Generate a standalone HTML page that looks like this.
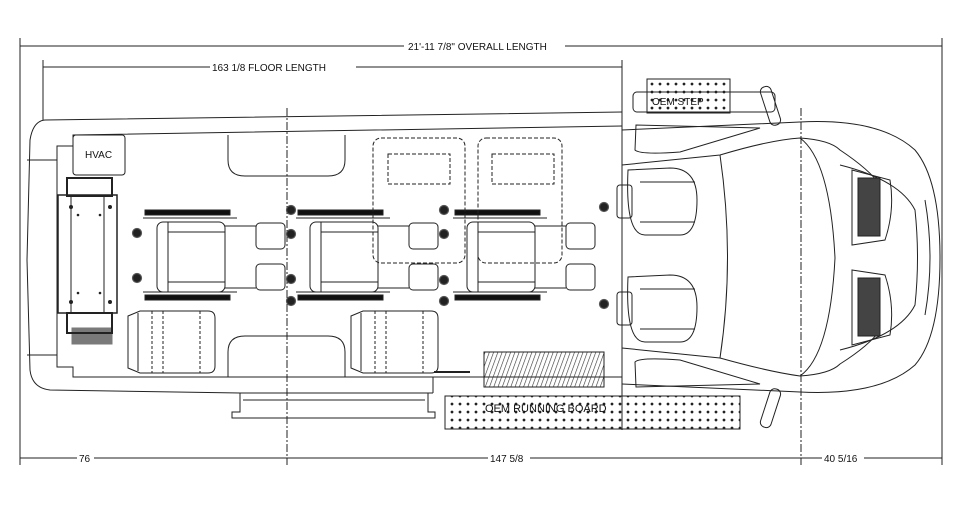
<!DOCTYPE html>
<html><head><meta charset="utf-8"><style>
html,body{margin:0;padding:0;background:#fff;}
svg{display:block;}
text{font-family:"Liberation Sans",sans-serif;font-size:10px;fill:#111;stroke:none;}
</style></head><body>
<svg width="964" height="509" viewBox="0 0 964 509" xmlns="http://www.w3.org/2000/svg" fill="none" stroke="#222" stroke-width="1">
<defs>
<pattern id="dots" width="8" height="8" patternUnits="userSpaceOnUse"><circle cx="4" cy="4" r="1.4" fill="#222" stroke="none"/></pattern>
<pattern id="hatch" width="4" height="4" patternUnits="userSpaceOnUse" patternTransform="rotate(20)"><line x1="0" y1="0" x2="0" y2="4" stroke="#333" stroke-width="1.2"/></pattern>
</defs>
<line x1="20" y1="38" x2="20" y2="465"/>
<line x1="942" y1="38" x2="942" y2="465"/>
<line x1="20" y1="46" x2="404" y2="46"/><line x1="565" y1="46" x2="942" y2="46"/>
<text x="408" y="50">21'-11 7/8" OVERALL LENGTH</text>
<line x1="43" y1="60" x2="43" y2="120"/>
<line x1="622" y1="60" x2="622" y2="430"/>
<line x1="43" y1="67" x2="210" y2="67"/><line x1="356" y1="67" x2="622" y2="67"/>
<text x="212" y="71">163 1/8 FLOOR LENGTH</text>
<line x1="20" y1="458" x2="77" y2="458"/><line x1="94" y1="458" x2="287" y2="458"/>
<text x="79" y="462">76</text>
<line x1="287" y1="458" x2="488" y2="458"/><line x1="530" y1="458" x2="800" y2="458"/>
<text x="490" y="462">147 5/8</text>
<line x1="800" y1="458" x2="822" y2="458"/><line x1="864" y1="458" x2="942" y2="458"/>
<text x="824" y="462">40 5/16</text>
<line x1="287" y1="108" x2="287" y2="465" stroke-dasharray="8,2,2,2"/>
<line x1="801" y1="108" x2="801" y2="465" stroke-dasharray="8,2,2,2"/>
<path d="M622 112 L45 120 Q33 121 30 140 L27 260 L30 370 Q32 388 50 390 L240 393 L433 393"/>
<path d="M622 126 L73 135 L73 146 L57 146 L57 367 L73 367 L73 377 L433 377 L622 377"/>
<line x1="27" y1="160" x2="57" y2="160"/><line x1="27" y1="355" x2="57" y2="355"/>
<line x1="433" y1="377" x2="433" y2="393"/>
<path d="M240 393 L240 412 L232 412 L232 418 L435 418 L435 412 L428 412 L428 393"/>
<line x1="243" y1="400" x2="425" y2="400"/>
<rect x="73" y="135" width="52" height="40" rx="3"/>
<text x="85" y="158">HVAC</text>
<rect x="67" y="178" width="45" height="18" stroke-width="2"/>
<rect x="58" y="195" width="59" height="118" stroke-width="1.5"/>
<line x1="71" y1="195" x2="71" y2="313"/><line x1="104" y1="195" x2="104" y2="313"/>
<g fill="#222" stroke="none"><circle cx="71" cy="207" r="2"/><circle cx="110" cy="207" r="2"/><circle cx="71" cy="302" r="2"/><circle cx="110" cy="302" r="2"/><circle cx="78" cy="215" r="1.3"/><circle cx="100" cy="215" r="1.3"/><circle cx="78" cy="293" r="1.3"/><circle cx="100" cy="293" r="1.3"/></g>
<rect x="67" y="313" width="45" height="20" stroke-width="2"/>
<rect x="72" y="328" width="40" height="16" fill="#222" opacity="0.6"/>
<path d="M228 135 L228 160 Q228 176 245 176 L328 176 Q345 176 345 160 L345 135"/>
<path d="M228 377 L228 352 Q228 336 245 336 L328 336 Q345 336 345 352 L345 377"/>
<g id="seat">
<rect x="145" y="210" width="85" height="5" fill="#111"/>
<rect x="145" y="295" width="85" height="5" fill="#111"/>
<line x1="143" y1="218" x2="237" y2="218"/><line x1="143" y1="292" x2="237" y2="292"/>
<rect x="157" y="222" width="68" height="70" rx="6"/>
<line x1="168" y1="222" x2="168" y2="292"/><line x1="168" y1="232" x2="225" y2="232"/><line x1="168" y1="282" x2="225" y2="282"/>
<rect x="256" y="223" width="29" height="26" rx="4"/>
<rect x="256" y="264" width="29" height="26" rx="4"/>
<line x1="225" y1="226" x2="256" y2="226"/><line x1="225" y1="288" x2="256" y2="288"/>
</g>
<use href="#seat" x="153"/>
<use href="#seat" x="310"/>
<g fill="#222" stroke="#555" stroke-width="1.2">
<circle cx="137" cy="233" r="4.5"/><circle cx="137" cy="278" r="4.5"/>
<circle cx="291" cy="210" r="4.5"/><circle cx="291" cy="234" r="4.5"/><circle cx="291" cy="279" r="4.5"/><circle cx="291" cy="301" r="4.5"/>
<circle cx="444" cy="210" r="4.5"/><circle cx="444" cy="234" r="4.5"/><circle cx="444" cy="280" r="4.5"/><circle cx="444" cy="301" r="4.5"/>
<circle cx="604" cy="207" r="4.5"/><circle cx="604" cy="304" r="4.5"/>
</g>
<g id="bench">
<path d="M140 311 L208 311 Q215 311 215 318 L215 366 Q215 373 208 373 L140 373 L128 368 L128 316 Z"/>
<line x1="138" y1="313" x2="138" y2="371"/><line x1="152" y1="311" x2="152" y2="373" stroke-dasharray="3,2"/><line x1="163" y1="311" x2="163" y2="373" stroke-dasharray="3,2"/><line x1="200" y1="311" x2="200" y2="373" stroke-dasharray="3,2"/>
</g>
<use href="#bench" x="223"/>
<g stroke-dasharray="4,2">
<rect x="373" y="138" width="92" height="125" rx="8"/>
<rect x="388" y="154" width="62" height="30"/>
<rect x="478" y="138" width="84" height="125" rx="8"/>
<rect x="492" y="154" width="62" height="30"/>
</g>
<rect x="484" y="352" width="120" height="35" fill="url(#hatch)"/>
<line x1="434" y1="372" x2="470" y2="372" stroke-width="2"/>
<rect x="445" y="396" width="295" height="33" fill="url(#dots)"/>
<text x="485" y="412" style="font-size:11px">OEM RUNNING BOARD</text>
<rect x="647" y="79" width="83" height="34" fill="url(#dots)"/>
<rect x="633" y="92" width="142" height="20" rx="4"/>
<text x="652" y="105">OEM STEP</text>
<path d="M622 130 L800 122 Q880 118 915 150 Q940 180 940 258 Q940 336 915 365 Q880 396 800 392 L622 384"/>
<path d="M636 125 L635 150 Q640 155 680 152 L760 128 Z"/>
<path d="M636 387 L635 362 Q640 357 680 360 L760 384 Z"/>
<path d="M622 165 L720 155 Q770 140 800 138 Q830 140 840 150 Q870 170 880 185"/>
<path d="M622 348 L720 358 Q770 372 800 376 Q830 374 840 364 Q870 345 880 330"/>
<path d="M720 155 Q735 258 720 358"/>
<path d="M800 138 Q830 160 835 258 Q830 355 800 376"/>
<path d="M840 165 Q900 180 915 210 Q920 258 915 305 Q900 335 840 350"/>
<path d="M925 200 Q935 258 925 315"/>
<rect x="858" y="178" width="22" height="58" fill="#444"/>
<rect x="858" y="278" width="22" height="58" fill="#444"/>
<path d="M852 170 L890 180 Q895 210 885 240 L852 245 Z"/>
<path d="M852 270 L885 275 Q895 305 890 335 L852 345 Z"/>
<g id="fs">
<rect x="617" y="185" width="15" height="33" rx="3"/>
<path d="M628 170 Q625 235 645 235 L680 235 Q697 235 697 200 Q697 168 670 168 Z"/>
<path d="M640 182 L695 182 M640 222 L695 222"/>
</g>
<use href="#fs" y="107"/>
<rect x="765" y="86" width="11" height="40" rx="5" transform="rotate(-18 770 106)"/>
<rect x="765" y="388" width="11" height="40" rx="5" transform="rotate(18 770 408)"/>
</svg>
</body></html>
